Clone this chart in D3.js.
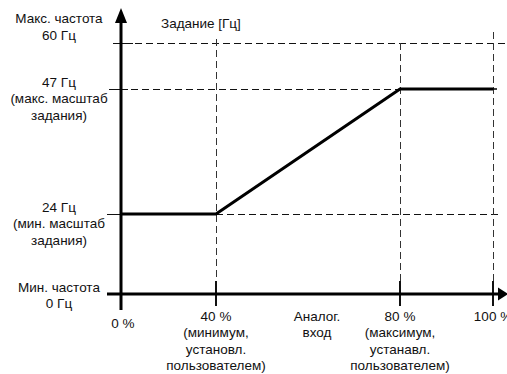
<!DOCTYPE html>
<html><head><meta charset="utf-8">
<script src="https://cdn.jsdelivr.net/npm/d3@7"></script>
<style>
html,body{margin:0;padding:0;background:#fff;}
svg{display:block;}
text{font-family:"Liberation Sans",Arial,sans-serif;font-size:13.5px;fill:#111;}
</style></head>
<body>
<script>
// Data
const xTicks = [0, 40, 80, 100];
const yTicks = [0, 24, 47, 60];
const lineX = [0, 40, 80, 100];
const lineY = [24, 24, 47, 47];
const xLabels = [
  ["0 %"],
  ["40 %", "(минимум,", "установл.", "пользователем)"],
  ["80 %", "(максимум,", "устанавл.", "пользователем)"],
  ["100 %"]
];
const yLabels = [
  ["Мин. частота", "0 Гц"],
  ["24 Гц", "(мин. масштаб", "задания)"],
  ["47 Гц", "(макс. масштаб", "задания)"],
  ["Макс. частота", "60 Гц"]
];
const yTitle = "Задание [Гц]";
const xTitle = ["Аналог.", "вход"];

const W = 507, H = 374;
const svg = d3.select("body").append("svg").attr("width", W).attr("height", H);

// schematic (piecewise) scales
const x = d3.scaleLinear().domain([0, 40, 80, 100]).range([121, 216, 400, 493]);
const y = d3.scaleLinear().domain([0, 24, 47, 60]).range([294, 214, 89, 43]);

const dash = "7,4";
const g = svg.append("g");
const c = v => Math.round(v) + 0.5; // crisp 1px

// dashed reference lines
g.append("line").attr("x1", 113).attr("x2", W).attr("y1", c(y(60))).attr("y2", c(y(60)))
  .attr("stroke", "#111").attr("stroke-dasharray", dash);
g.append("line").attr("x1", 109).attr("x2", x(80)).attr("y1", c(y(47))).attr("y2", c(y(47)))
  .attr("stroke", "#111").attr("stroke-dasharray", dash);
g.append("line").attr("x1", x(40)).attr("x2", 498).attr("y1", c(y(24))).attr("y2", c(y(24)))
  .attr("stroke", "#111").attr("stroke-dasharray", dash);
g.append("line").attr("x1", 107).attr("x2", x(0)).attr("y1", c(y(24))).attr("y2", c(y(24)))
  .attr("stroke", "#111");
g.append("line").attr("x1", 109).attr("x2", 128).attr("y1", c(y(47))).attr("y2", c(y(47)))
  .attr("stroke", "#111");
g.append("line").attr("x1", 113).attr("x2", 133).attr("y1", c(y(60))).attr("y2", c(y(60)))
  .attr("stroke", "#111");

// vertical dashed
const vTop = {40: 39, 80: 43, 100: 32};
[40, 80, 100].forEach(v => {
  g.append("line").attr("x1", c(x(v))).attr("x2", c(x(v))).attr("y1", vTop[v]).attr("y2", y(0))
    .attr("stroke", "#333").attr("stroke-dasharray", dash);
  g.append("line").attr("x1", x(v)).attr("x2", x(v)).attr("y1", y(0) - 13).attr("y2", y(0) + 12)
    .attr("stroke", "#111").attr("stroke-width", 2);
});

// data line
g.append("path")
  .datum(lineX.map((d, i) => [d, lineY[i]]))
  .attr("d", d3.line().x(d => x(d[0])).y(d => y(d[1])))
  .attr("fill", "none").attr("stroke", "#000").attr("stroke-width", 3);
g.append("line").attr("x1", x(100)).attr("x2", 497).attr("y1", y(47)).attr("y2", y(47))
  .attr("stroke", "#000").attr("stroke-width", 1.5);

// axes
g.append("line").attr("x1", x(0)).attr("x2", x(0)).attr("y1", 310).attr("y2", 22)
  .attr("stroke", "#000").attr("stroke-width", 3);
g.append("path").attr("d", `M${x(0)-6},23 L${x(0)},8 L${x(0)+6},23 Z`).attr("fill", "#000");
g.append("line").attr("x1", 107).attr("x2", 499).attr("y1", y(0)).attr("y2", y(0))
  .attr("stroke", "#000").attr("stroke-width", 3);
g.append("path").attr("d", `M498,${y(0)-6.5} L508,${y(0)} L498,${y(0)+6.5} Z`).attr("fill", "#000");

const LH = 16.5;
// y labels
yTicks.forEach((v, i) => {
  const lines = yLabels[i];
  const start = v === 60 ? y(v) - 8 - (lines.length - 1) * LH : y(v) - 7;
  lines.forEach((t, j) => {
    svg.append("text").attr("x", 59).attr("y", start + j * LH)
      .attr("dy", "0.35em").attr("text-anchor", "middle").text(t);
  });
});
// x labels
xTicks.forEach((v, i) => {
  const lines = xLabels[i];
  const start = v === 0 ? 323 : 316;
  lines.forEach((t, j) => {
    svg.append("text").attr("x", x(v) + (v === 0 ? 2 : 0)).attr("y", start + j * LH)
      .attr("dy", "0.35em").attr("text-anchor", "middle").text(t);
  });
});
xTitle.forEach((t, j) => {
  svg.append("text").attr("x", 317).attr("y", 316 + j * LH)
    .attr("dy", "0.35em").attr("text-anchor", "middle").text(t);
});
svg.append("text").attr("x", 161).attr("y", 23).attr("dy", "0.35em").text(yTitle);
</script>
</body></html>
